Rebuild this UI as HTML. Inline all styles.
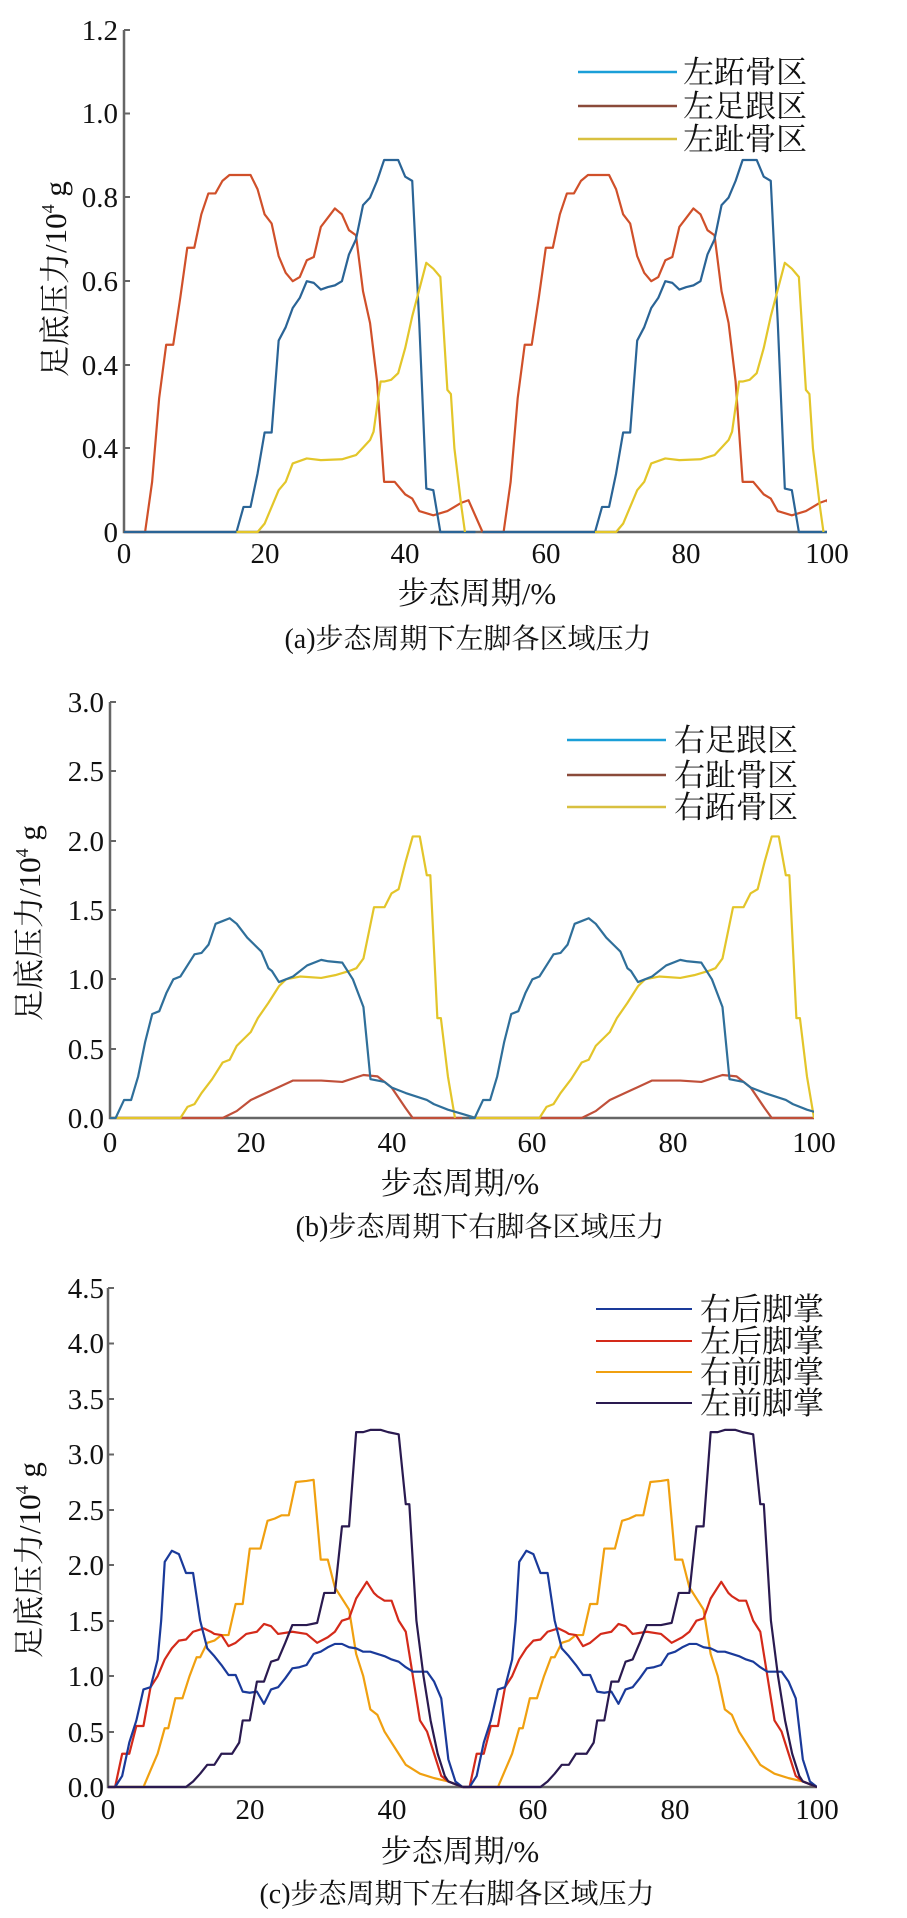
<!DOCTYPE html>
<html><head><meta charset="utf-8"><style>
html,body{margin:0;padding:0;background:#fff;}
svg{display:block}
text{font-family:"Liberation Serif","Noto Serif CJK SC",serif;fill:#111}
.t{font-size:29px}
.cj{font-family:"Liberation Serif","Noto Serif CJK SC",serif;font-size:31px}
.s{fill:none;stroke-width:2.2;vector-effect:non-scaling-stroke;stroke-linejoin:round}
.ax{stroke:#666;stroke-width:2.5;fill:none}
</style></head><body>
<svg width="907" height="1918" viewBox="0 0 907 1918" xmlns="http://www.w3.org/2000/svg">
<defs>
<clipPath id="ca"><rect x="0" y="-1" width="100" height="8"/></clipPath>
<clipPath id="cb"><rect x="0" y="-1" width="100" height="4"/></clipPath>
<clipPath id="cc"><rect x="0" y="-1" width="100" height="6"/></clipPath>
</defs>

<!-- ===== Chart (a) ===== -->
<g>
<path class="ax" d="M124,30 V532 H827"/>
<g stroke="#666" stroke-width="2"><line x1="124" y1="30" x2="130" y2="30"/><line x1="124" y1="113.5" x2="130" y2="113.5"/><line x1="124" y1="197" x2="130" y2="197"/><line x1="124" y1="281" x2="130" y2="281"/><line x1="124" y1="365" x2="130" y2="365"/><line x1="124" y1="448" x2="130" y2="448"/></g>
<g class="t" text-anchor="end">
<text x="118" y="40">1.2</text><text x="118" y="123">1.0</text><text x="118" y="207">0.8</text><text x="118" y="291">0.6</text><text x="118" y="375">0.4</text><text x="118" y="458">0.4</text><text x="118" y="542">0</text>
</g>
<g class="t" text-anchor="middle">
<text x="124" y="563">0</text><text x="265" y="563">20</text><text x="405" y="563">40</text><text x="546" y="563">60</text><text x="686" y="563">80</text><text x="827" y="563">100</text>
</g>
<text class="cj" x="477" y="604" text-anchor="middle">步态周期/%</text>
<text class="cj" x="468" y="648" text-anchor="middle" style="font-size:28px">(a)步态周期下左脚各区域压力</text>
<text class="cj" transform="translate(66,279) rotate(-90)" text-anchor="middle">足底压力/10<tspan font-size="18" dy="-12">4</tspan><tspan dy="12"> g</tspan></text>
<g>
<line x1="578" y1="72" x2="677" y2="72" stroke="#1a9fd8" stroke-width="2.5"/>
<line x1="578" y1="106" x2="677" y2="106" stroke="#8a4a3a" stroke-width="2.5"/>
<line x1="578" y1="139" x2="677" y2="139" stroke="#d8c040" stroke-width="2.5"/>
<text class="cj" x="683" y="83">左跖骨区</text><text class="cj" x="683" y="117">左足跟区</text><text class="cj" x="683" y="150">左趾骨区</text>
</g>
<g transform="translate(124,532) scale(7.03,-83.6)" clip-path="url(#ca)">
<g id="a1">
<polyline class="s" stroke="#d0502a" points="0,0 3,0 4,0.6 5,1.6 6,2.24 7,2.24 8,2.8 9,3.4 10,3.4 11,3.8 12,4.05 13,4.05 14,4.2 15,4.27 18,4.27 19,4.1 20,3.8 21,3.69 22,3.3 23,3.1 24,3.0 25,3.05 26,3.25 27,3.29 28,3.65 29,3.76 30,3.87 31,3.8 32,3.61 33,3.55 34,2.88 35,2.5 36,1.8 37,0.6 38.5,0.6 40,0.45 41,0.4 42,0.25 44,0.2 46,0.25 48,0.35 49,0.38 51,0"/>
<polyline class="s" stroke="#2a6496" points="0,0 16,0 17,0.3 18,0.3 19,0.7 20,1.19 21,1.19 22,2.29 23,2.45 24,2.68 25,2.8 26,3.0 27,2.98 28,2.9 29,2.93 30,2.95 31,3.0 32,3.32 33,3.5 34,3.91 35,4.0 36,4.2 37,4.45 39,4.45 40,4.25 41,4.2 42,2.5 43,0.52 44,0.5 45,0 50,0"/>
<polyline class="s" stroke="#e3c62a" points="16,0 19,0 20,0.1 21,0.3 22,0.5 23,0.6 24,0.82 26,0.88 28,0.86 31,0.87 33,0.92 34,1.01 35,1.1 35.5,1.2 36.5,1.8 37,1.8 38,1.82 39,1.9 40,2.2 41,2.58 42,2.9 43,3.22 44,3.15 45,3.05 46,1.7 46.5,1.65 47,1.0 48,0.3 48.5,0"/>
</g>
<use href="#a1" transform="translate(51,0)"/>
</g>
</g>

<!-- ===== Chart (b) ===== -->
<g>
<path class="ax" d="M110,702 V1118 H814"/>
<g stroke="#666" stroke-width="2"><line x1="110" y1="702" x2="116" y2="702"/><line x1="110" y1="771" x2="116" y2="771"/><line x1="110" y1="841" x2="116" y2="841"/><line x1="110" y1="910" x2="116" y2="910"/><line x1="110" y1="979" x2="116" y2="979"/><line x1="110" y1="1049" x2="116" y2="1049"/></g>
<g class="t" text-anchor="end">
<text x="104" y="712">3.0</text><text x="104" y="781">2.5</text><text x="104" y="851">2.0</text><text x="104" y="920">1.5</text><text x="104" y="989">1.0</text><text x="104" y="1059">0.5</text><text x="104" y="1128">0.0</text>
</g>
<g class="t" text-anchor="middle">
<text x="110" y="1152">0</text><text x="251" y="1152">20</text><text x="392" y="1152">40</text><text x="532" y="1152">60</text><text x="673" y="1152">80</text><text x="814" y="1152">100</text>
</g>
<text class="cj" x="460" y="1194" text-anchor="middle">步态周期/%</text>
<text class="cj" x="480" y="1236" text-anchor="middle" style="font-size:28px">(b)步态周期下右脚各区域压力</text>
<text class="cj" transform="translate(40,923) rotate(-90)" text-anchor="middle">足底压力/10<tspan font-size="18" dy="-12">4</tspan><tspan dy="12"> g</tspan></text>
<g>
<line x1="567" y1="740" x2="666" y2="740" stroke="#1a9fd8" stroke-width="2.5"/>
<line x1="567" y1="775" x2="666" y2="775" stroke="#8a4a3a" stroke-width="2.5"/>
<line x1="567" y1="807" x2="666" y2="807" stroke="#d8c040" stroke-width="2.5"/>
<text class="cj" x="674" y="751">右足跟区</text><text class="cj" x="674" y="786">右趾骨区</text><text class="cj" x="674" y="818">右跖骨区</text>
</g>
<g transform="translate(110,1118) scale(7.04,-138.7)" clip-path="url(#cb)">
<g id="b1">
<polyline class="s" stroke="#c0503a" points="0,0 16,0 18,0.05 20,0.13 23,0.2 26,0.27 30,0.27 33,0.26 36,0.31 38,0.3 40,0.22 42,0.07 43,0 50,0"/>
<polyline class="s" stroke="#e3c52a" points="0,0 10,0 11,0.08 12,0.1 13,0.18 14.5,0.28 16,0.4 17,0.42 18,0.52 20,0.62 21,0.72 22.5,0.83 24,0.95 25,1.0 27,1.02 30,1.01 32,1.03 34,1.06 35,1.08 36,1.15 37.5,1.52 39,1.52 40,1.62 41,1.65 42,1.85 43,2.03 44,2.03 45,1.75 45.5,1.75 46.5,0.72 47,0.72 48,0.3 49,0"/>
<polyline class="s" stroke="#2f6f9a" points="0,0 0.8,0 2,0.13 3,0.13 4,0.3 5,0.55 6,0.75 7,0.77 8,0.9 9,1.0 10,1.02 11,1.1 12,1.18 13,1.19 14,1.25 15,1.4 16,1.42 17,1.44 18,1.4 19.5,1.3 20.5,1.25 21.5,1.2 22.5,1.08 23,1.06 24,0.98 26,1.02 28,1.1 30,1.14 31,1.13 33,1.12 34.5,1.0 36,0.8 37,0.28 39,0.26 40,0.22 42,0.18 45,0.13 46,0.1 48,0.06 50,0.03 52,0"/>
</g>
<use href="#b1" transform="translate(51,0)"/>
</g>
</g>

<!-- ===== Chart (c) ===== -->
<g>
<path class="ax" d="M108,1288 V1787 H817"/>
<g stroke="#666" stroke-width="2"><line x1="108" y1="1288" x2="114" y2="1288"/><line x1="108" y1="1343.5" x2="114" y2="1343.5"/><line x1="108" y1="1399" x2="114" y2="1399"/><line x1="108" y1="1454.5" x2="114" y2="1454.5"/><line x1="108" y1="1510" x2="114" y2="1510"/><line x1="108" y1="1565" x2="114" y2="1565"/><line x1="108" y1="1621" x2="114" y2="1621"/><line x1="108" y1="1676" x2="114" y2="1676"/><line x1="108" y1="1732" x2="114" y2="1732"/></g>
<g class="t" text-anchor="end">
<text x="104" y="1298">4.5</text><text x="104" y="1353">4.0</text><text x="104" y="1409">3.5</text><text x="104" y="1464">3.0</text><text x="104" y="1520">2.5</text><text x="104" y="1575">2.0</text><text x="104" y="1631">1.5</text><text x="104" y="1686">1.0</text><text x="104" y="1742">0.5</text><text x="104" y="1797">0.0</text>
</g>
<g class="t" text-anchor="middle">
<text x="108" y="1819">0</text><text x="250" y="1819">20</text><text x="392" y="1819">40</text><text x="533" y="1819">60</text><text x="675" y="1819">80</text><text x="817" y="1819">100</text>
</g>
<text class="cj" x="460" y="1862" text-anchor="middle">步态周期/%</text>
<text class="cj" x="457" y="1903" text-anchor="middle" style="font-size:28px">(c)步态周期下左右脚各区域压力</text>
<text class="cj" transform="translate(40,1560) rotate(-90)" text-anchor="middle">足底压力/10<tspan font-size="18" dy="-12">4</tspan><tspan dy="12"> g</tspan></text>
<g>
<line x1="596" y1="1309" x2="692" y2="1309" stroke="#1a3a9a" stroke-width="2"/>
<line x1="596" y1="1341" x2="692" y2="1341" stroke="#d42a1a" stroke-width="2"/>
<line x1="596" y1="1372" x2="692" y2="1372" stroke="#f0a010" stroke-width="2"/>
<line x1="596" y1="1403" x2="692" y2="1403" stroke="#2a1a50" stroke-width="2"/>
<text class="cj" x="700" y="1320">右后脚掌</text><text class="cj" x="700" y="1352">左后脚掌</text><text class="cj" x="700" y="1383">右前脚掌</text><text class="cj" x="700" y="1414">左前脚掌</text>
</g>
<g transform="translate(108,1787) scale(7.09,-110.9)" clip-path="url(#cc)">
<g id="c1">
<polyline class="s" stroke="#f0a010" points="0,0 5,0 6,0.15 7,0.3 8,0.53 8.5,0.53 9.5,0.8 10.5,0.8 11.5,1.0 12.5,1.17 13,1.17 14,1.3 15,1.32 16,1.37 17,1.37 18,1.65 19,1.65 20,2.15 21.5,2.15 22.5,2.4 23.5,2.42 24.5,2.45 25.5,2.45 26.5,2.75 28,2.76 29,2.77 30,2.05 31,2.05 32,1.8 34,1.6 35,1.2 36,1.0 37,0.7 38,0.65 39,0.5 41,0.3 42,0.2 44,0.12 46,0.08 48,0.05 50,0"/>
<polyline class="s" stroke="#d42a1a" points="0,0 1,0 2,0.3 3,0.3 4,0.55 5,0.55 6,0.9 7,1.0 8,1.15 9,1.25 10,1.32 11,1.33 12,1.4 13.5,1.43 14.5,1.4 15,1.38 16,1.37 17,1.27 18,1.3 19.5,1.38 21,1.4 22,1.47 23,1.45 24,1.38 26,1.4 28,1.38 29.5,1.3 31,1.35 32,1.4 33,1.5 34,1.52 35,1.7 36.5,1.85 37.5,1.75 38,1.72 39,1.68 40,1.68 41,1.5 42,1.4 43,1.0 44,0.6 45,0.5 46,0.3 47,0.1 48,0.05 50,0"/>
<polyline class="s" stroke="#1a3a9a" points="0,0 1,0 2,0.1 3,0.4 4,0.6 5,0.88 6,0.9 7,1.15 7.5,1.5 8,2.03 9,2.13 10,2.1 11,1.93 12,1.93 13,1.5 14,1.25 15,1.18 16,1.1 17,1.01 18,1.01 19,0.86 20,0.85 21,0.86 22,0.75 23,0.88 24,0.9 25,0.98 26,1.07 27,1.08 28,1.1 29,1.2 30,1.22 31,1.26 32,1.29 33,1.29 34,1.26 35,1.25 36,1.22 37,1.22 38,1.2 39,1.18 40,1.15 41,1.13 42,1.08 43,1.04 45,1.04 46,0.95 47,0.8 48,0.25 49,0.05 50,0"/>
<polyline class="s" stroke="#2a1a50" points="0,0 11,0 12,0.05 13,0.12 14,0.2 15,0.2 16,0.3 17.5,0.3 18.5,0.4 19,0.6 20,0.6 21,0.95 22,0.95 23,1.13 24,1.15 25,1.3 26,1.46 28,1.46 29.5,1.48 30.5,1.75 32,1.75 33,2.35 34,2.35 35,3.2 36,3.2 37,3.22 38.5,3.22 39.5,3.2 41,3.18 42,2.55 42.5,2.55 43.5,1.5 44.5,1.0 45.5,0.6 46.5,0.3 47.5,0.1 48,0.05 50,0"/>
</g>
<use href="#c1" transform="translate(50,0)"/>
</g>
</g>
</svg>
</body></html>
